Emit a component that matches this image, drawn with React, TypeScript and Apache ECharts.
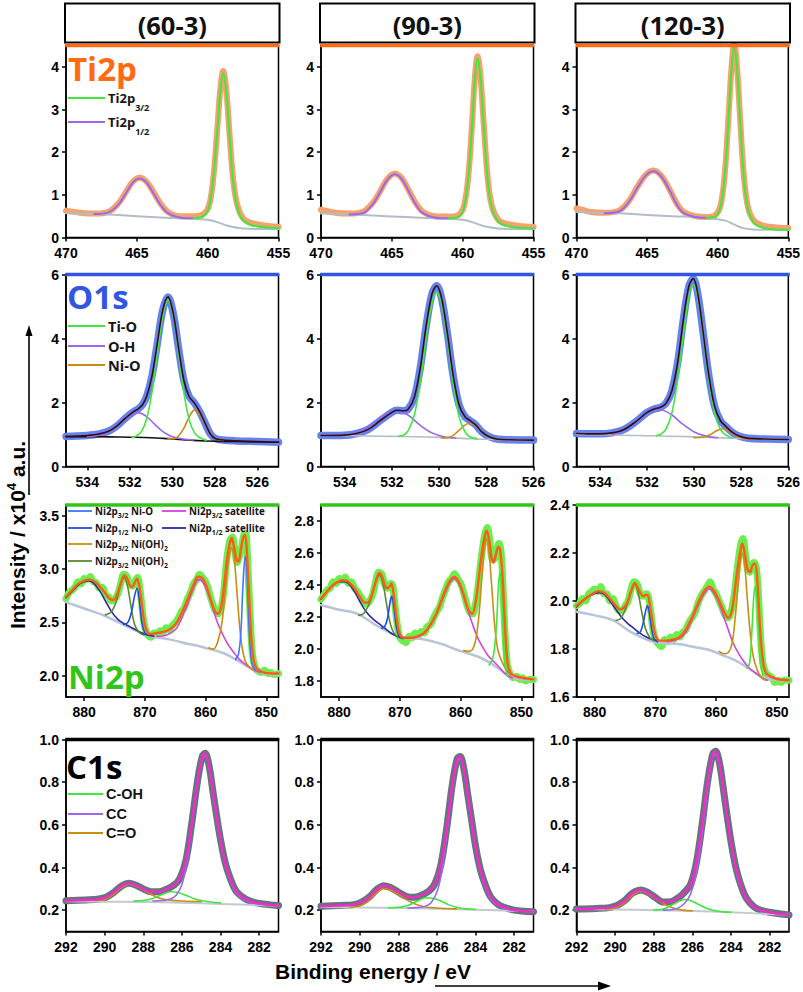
import React, { useEffect, useRef } from 'react';
import * as echarts from 'echarts';

type Pt = [number, number];

// ---------------- labels / ticks ----------------
const sampleNames = ['(60-3)', '(90-3)', '(120-3)'];
const tiXTicks = [455, 460, 465, 470];
const oXTicks = [526, 528, 530, 532, 534];
const niXTicks = [850, 860, 870, 880];
const cXTicks = [282, 284, 286, 288, 290, 292];
const tiYTicks = [0, 1, 2, 3, 4];
const oYTicks = [0, 2, 4, 6];
const ni60YTicks = [2.0, 2.5, 3.0, 3.5];
const ni90YTicks = [1.8, 2.0, 2.2, 2.4, 2.6, 2.8];
const ni120YTicks = [1.6, 1.8, 2.0, 2.2, 2.4];
const cYTicks = [0.2, 0.4, 0.6, 0.8, 1.0];

// ---------------- Ti2p ----------------
const ti60Data: Pt[] = [[470,0.63],[469,0.58],[468,0.56],[467,0.6],[466.3,0.8],[465.8,1.05],[465.3,1.3],[464.8,1.4],[464.3,1.3],[463.8,1.05],[463.3,0.78],[462.8,0.6],[462,0.5],[461,0.5],[460.3,0.55],[459.9,0.75],[459.6,1.4],[459.35,2.4],[459.1,3.5],[458.9,3.9],[458.7,3.5],[458.45,2.4],[458.2,1.35],[457.9,0.75],[457.5,0.45],[457,0.35],[456,0.28],[455,0.25]];
const ti60P12: Pt[] = [[468,0.55],[467,0.59],[466.3,0.77],[465.8,1.02],[465.3,1.28],[464.8,1.38],[464.3,1.28],[463.8,1.02],[463.3,0.75],[462.8,0.57],[462,0.47],[461,0.45]];
const ti60P32: Pt[] = [[461,0.45],[460.3,0.5],[459.9,0.72],[459.6,1.4],[459.35,2.38],[459.1,3.45],[458.9,3.85],[458.7,3.45],[458.45,2.35],[458.2,1.3],[457.9,0.7],[457.5,0.4],[457,0.3],[456,0.24],[455,0.22]];
const ti60Bg: Pt[] = [[470,0.57],[468,0.55],[466,0.52],[464,0.48],[462,0.45],[460.5,0.43],[459.7,0.4],[459,0.32],[458.3,0.25],[457.5,0.21],[456,0.2],[455,0.2]];

const ti90Data: Pt[] = [[470,0.65],[469,0.58],[468,0.56],[467,0.61],[466.3,0.83],[465.8,1.1],[465.3,1.38],[464.8,1.5],[464.3,1.39],[463.8,1.1],[463.3,0.8],[462.8,0.6],[462,0.5],[461,0.49],[460.3,0.53],[459.9,0.75],[459.6,1.45],[459.35,2.6],[459.15,3.7],[458.95,4.25],[458.75,3.8],[458.5,2.6],[458.25,1.45],[457.95,0.75],[457.5,0.42],[457,0.33],[456,0.27],[455,0.25]];
const ti90P12: Pt[] = [[468,0.54],[467,0.58],[466.3,0.8],[465.8,1.08],[465.3,1.36],[464.8,1.48],[464.3,1.37],[463.8,1.08],[463.3,0.77],[462.8,0.57],[462,0.47],[461,0.45]];
const ti90P32: Pt[] = [[461,0.45],[460.3,0.48],[459.9,0.72],[459.6,1.42],[459.35,2.55],[459.15,3.65],[458.95,4.2],[458.75,3.75],[458.5,2.55],[458.25,1.4],[457.95,0.7],[457.5,0.38],[457,0.28],[456,0.23],[455,0.21]];
const ti90Bg: Pt[] = [[470,0.56],[468,0.54],[466,0.51],[464,0.48],[462,0.45],[460.5,0.43],[459.7,0.4],[459,0.32],[458.3,0.25],[457.5,0.21],[456,0.2],[455,0.2]];

const ti120Data: Pt[] = [[470,0.68],[469.5,0.64],[469,0.6],[468,0.58],[467,0.63],[466.3,0.85],[465.7,1.18],[465.1,1.47],[464.55,1.57],[464,1.45],[463.4,1.12],[462.9,0.8],[462.4,0.6],[461.6,0.5],[460.8,0.48],[460.2,0.52],[459.8,0.75],[459.5,1.5],[459.25,2.75],[459.03,3.95],[458.83,4.55],[458.63,4.0],[458.4,2.7],[458.15,1.45],[457.85,0.7],[457.4,0.38],[456.8,0.28],[456,0.24],[455,0.22]];
const ti120P12: Pt[] = [[468,0.57],[467,0.61],[466.3,0.83],[465.7,1.16],[465.1,1.45],[464.55,1.55],[464,1.43],[463.4,1.1],[462.9,0.77],[462.4,0.57],[461.6,0.48],[460.8,0.46]];
const ti120P32: Pt[] = [[460.8,0.46],[460.2,0.48],[459.8,0.72],[459.5,1.45],[459.25,2.7],[459.03,3.9],[458.83,4.5],[458.63,3.95],[458.4,2.65],[458.15,1.4],[457.85,0.65],[457.4,0.33],[456.8,0.23],[456,0.19],[455,0.18]];
const ti120Bg: Pt[] = [[470,0.6],[468,0.58],[466,0.55],[464,0.51],[462.5,0.49],[461,0.46],[460,0.43],[459.4,0.39],[458.8,0.3],[458.2,0.22],[457.5,0.19],[456,0.18],[455,0.18]];

// ---------------- O1s ----------------
const o60Fit: Pt[] = [[535,0.94],[534.5,0.95],[534,0.97],[533.5,1.01],[533,1.1],[532.6,1.27],[532.2,1.51],[531.85,1.7],[531.6,1.8],[531.4,1.93],[531.2,2.2],[530.95,2.84],[530.7,3.86],[530.45,4.88],[530.2,5.3],[529.95,4.77],[529.7,3.68],[529.45,2.68],[529.2,2.18],[528.95,1.98],[528.7,1.7],[528.45,1.35],[528.2,1.01],[527.95,0.87],[527.5,0.82],[527,0.8],[526,0.78],[525,0.76]];
const o60TiO: Pt[] = [[531.9,0.9],[531.7,0.95],[531.45,1.09],[531.2,1.5],[530.95,2.34],[530.7,3.54],[530.45,4.7],[530.2,5.2],[529.95,4.7],[529.7,3.52],[529.45,2.3],[529.2,1.45],[528.95,1.05],[528.7,0.9],[528.4,0.82]];
const o60OH: Pt[] = [[534,0.93],[533.5,0.97],[533,1.07],[532.6,1.25],[532.2,1.5],[531.9,1.64],[531.67,1.69],[531.4,1.64],[531.1,1.5],[530.8,1.3],[530.5,1.12],[530.2,0.99],[529.9,0.91],[529.5,0.86],[529,0.83]];
const o60NiO: Pt[] = [[530.2,0.87],[529.9,0.87],[529.7,0.96],[529.45,1.2],[529.2,1.55],[528.95,1.77],[528.7,1.62],[528.45,1.34],[528.2,1.02],[527.95,0.87],[527.6,0.81]];
const o60Bg: Pt[] = [[535,0.93],[534,0.93],[533,0.925],[532,0.915],[531,0.9],[530.2,0.87],[529.5,0.84],[528.8,0.81],[528,0.79],[527,0.78],[526,0.77],[525,0.76]];

const o90Fit: Pt[] = [[535,0.97],[534,0.98],[533.5,1.03],[533,1.16],[532.5,1.43],[532,1.69],[531.8,1.76],[531.5,1.74],[531.3,1.8],[531.05,2.16],[530.8,3.06],[530.55,4.37],[530.3,5.39],[530.1,5.65],[529.9,5.28],[529.65,4.17],[529.4,2.83],[529.15,1.92],[528.9,1.55],[528.7,1.44],[528.45,1.3],[528.2,1.09],[527.9,0.94],[527.5,0.85],[527,0.835],[526,0.825]];
const o90TiO: Pt[] = [[531.7,0.95],[531.5,0.98],[531.3,1.13],[531.05,1.6],[530.8,2.6],[530.55,4.0],[530.3,5.1],[530.1,5.45],[529.9,5.1],[529.65,4.0],[529.4,2.6],[529.15,1.55],[528.9,1.08],[528.7,0.93],[528.4,0.87]];
const o90OH: Pt[] = [[533.8,0.99],[533.3,1.1],[532.8,1.32],[532.3,1.6],[531.8,1.74],[531.3,1.6],[530.8,1.29],[530.3,1.05],[529.8,0.93],[529.3,0.89]];
const o90NiO: Pt[] = [[529.9,0.89],[529.5,0.93],[529.2,1.1],[528.95,1.27],[528.7,1.35],[528.45,1.27],[528.2,1.1],[527.9,0.93],[527.5,0.86]];
const o90Bg: Pt[] = [[535,0.97],[534,0.965],[533,0.955],[532,0.94],[531,0.93],[530,0.91],[529,0.88],[528,0.85],[527,0.835],[526,0.825]];

const o120Fit: Pt[] = [[535,1.03],[534.5,1.02],[534,1.02],[533.5,1.05],[533,1.15],[532.5,1.39],[532,1.69],[531.7,1.8],[531.43,1.85],[531.2,1.97],[530.95,2.36],[530.7,3.26],[530.45,4.64],[530.22,5.65],[530.04,5.87],[529.86,5.45],[529.63,4.25],[529.38,2.85],[529.13,1.87],[528.88,1.43],[528.65,1.25],[528.4,1.08],[528.1,0.95],[527.7,0.88],[527,0.86],[526,0.845]];
const o120TiO: Pt[] = [[531.6,0.97],[531.43,1.0],[531.2,1.17],[530.95,1.67],[530.7,2.72],[530.45,4.18],[530.22,5.33],[530.04,5.68],[529.86,5.33],[529.63,4.18],[529.38,2.72],[529.13,1.67],[528.88,1.15],[528.65,0.98],[528.4,0.9]];
const o120OH: Pt[] = [[533.5,0.99],[533,1.14],[532.5,1.38],[532,1.68],[531.5,1.79],[531,1.64],[530.5,1.33],[530,1.08],[529.5,0.95],[529,0.9]];
const o120NiO: Pt[] = [[530,0.9],[529.6,0.92],[529.3,1.0],[529.05,1.12],[528.79,1.18],[528.5,1.1],[528.2,0.96],[527.9,0.88],[527.5,0.86]];
const o120Bg: Pt[] = [[535,1.0],[534,0.99],[533,0.975],[532,0.96],[531,0.945],[530,0.925],[529,0.9],[528,0.875],[527,0.86],[526,0.845]];

// ---------------- Ni2p ----------------
const ni60Data: Pt[] = [[883,2.72],[882.5,2.78],[882,2.8],[881.5,2.83],[881,2.88],[880.5,2.86],[880,2.91],[879.5,2.9],[879,2.93],[878.5,2.88],[878,2.87],[877.5,2.82],[877,2.83],[876.5,2.76],[876,2.74],[875.5,2.7],[875,2.72],[874.5,2.76],[874,2.86],[873.5,2.95],[873,2.93],[872.5,2.86],[872,2.84],[871.5,2.9],[871.2,2.92],[870.8,2.8],[870.4,2.6],[870,2.45],[869.5,2.38],[869,2.36],[868.5,2.4],[868,2.39],[867.5,2.42],[867,2.41],[866.5,2.45],[866,2.43],[865.5,2.47],[865,2.5],[864.5,2.54],[864,2.6],[863.5,2.64],[863,2.72],[862.5,2.78],[862,2.86],[861.5,2.9],[861,2.95],[860.5,2.92],[860,2.88],[859.5,2.8],[859,2.7],[858.5,2.62],[858,2.58],[857.5,2.62],[857,2.8],[856.5,3.1],[856,3.27],[855.6,3.3],[855.2,3.18],[854.8,3.06],[854.5,3.1],[854.1,3.2],[853.7,3.32],[853.4,3.33],[853.1,3.1],[852.7,2.6],[852.3,2.2],[851.8,2.07],[851.3,2.04],[850.8,2.03],[850.3,2.05],[849.8,2.02],[849.3,2.03],[848.8,2.01],[848,2.02]];
const ni60Fit: Pt[] = [[883,2.74],[882,2.8],[881,2.86],[880,2.89],[879.3,2.9],[878.5,2.89],[877.5,2.84],[876.5,2.77],[875.8,2.72],[875.2,2.71],[874.6,2.76],[874,2.86],[873.4,2.94],[873,2.92],[872.5,2.85],[872.1,2.83],[871.7,2.87],[871.3,2.91],[870.9,2.83],[870.4,2.62],[870,2.47],[869.5,2.4],[869,2.39],[868,2.4],[867,2.41],[866,2.43],[865,2.48],[864,2.58],[863,2.71],[862,2.85],[861.2,2.93],[860.5,2.91],[859.8,2.83],[859.2,2.72],[858.6,2.62],[858,2.58],[857.5,2.63],[857,2.82],[856.5,3.08],[856,3.25],[855.7,3.29],[855.3,3.2],[854.9,3.08],[854.6,3.07],[854.2,3.18],[853.8,3.3],[853.5,3.32],[853.2,3.15],[852.8,2.7],[852.4,2.3],[852,2.12],[851.5,2.06],[850.5,2.03],[849,2.02],[848,2.02]];
const ni60Sat12: Pt[] = [[883,2.73],[882,2.79],[881,2.85],[880,2.88],[879.3,2.89],[878.5,2.87],[877.5,2.8],[876.5,2.7],[875.5,2.6],[874.5,2.53],[873.5,2.49],[872.5,2.46],[871.5,2.43],[870.5,2.4],[869.5,2.38],[868.5,2.37]];
const ni60OH12: Pt[] = [[876.5,2.57],[875.5,2.6],[874.7,2.7],[874,2.85],[873.4,2.92],[872.9,2.85],[872.3,2.65],[871.7,2.48],[871,2.41],[870.2,2.38]];
const ni60NiO12: Pt[] = [[873.5,2.48],[872.8,2.5],[872.2,2.6],[871.7,2.75],[871.3,2.82],[870.9,2.7],[870.5,2.5],[870,2.4],[869.5,2.38]];
const ni60Sat32: Pt[] = [[868,2.37],[866.5,2.38],[865,2.43],[864,2.53],[863,2.67],[862,2.82],[861.2,2.9],[860.5,2.88],[859.8,2.8],[859,2.67],[858.2,2.52],[857.3,2.4],[856.4,2.3],[855.4,2.22],[854.4,2.15],[853.3,2.1],[852,2.05],[851,2.03]];
const ni60OH32: Pt[] = [[859.5,2.26],[858.7,2.25],[858,2.32],[857.3,2.5],[856.7,2.85],[856.2,3.1],[855.75,3.2],[855.3,3.1],[854.8,2.75],[854.2,2.35],[853.5,2.14],[852.8,2.08],[852,2.05]];
const ni60NiO32: Pt[] = [[855.1,2.15],[854.6,2.2],[854.2,2.4],[853.85,2.85],[853.5,3.12],[853.2,2.95],[852.85,2.45],[852.4,2.12],[851.8,2.05]];
const ni60Bg: Pt[] = [[883,2.69],[880,2.63],[877,2.57],[874,2.49],[871,2.41],[869,2.37],[866,2.34],[863,2.3],[860,2.26],[857,2.21],[855,2.15],[853.5,2.1],[852,2.05],[850,2.02],[848,2.01]];

const ni90Data: Pt[] = [[883,2.31],[882.5,2.34],[882,2.37],[881.5,2.38],[881,2.42],[880.5,2.41],[880,2.44],[879.5,2.43],[879,2.45],[878.5,2.41],[878,2.42],[877.5,2.38],[877,2.36],[876.5,2.33],[876,2.3],[875.5,2.28],[875,2.3],[874.5,2.34],[874,2.42],[873.5,2.48],[873,2.47],[872.5,2.4],[872,2.38],[871.5,2.41],[871.2,2.4],[870.8,2.27],[870.4,2.14],[870,2.07],[869.5,2.05],[869,2.04],[868.5,2.08],[868,2.07],[867.5,2.1],[867,2.08],[866.5,2.11],[866,2.1],[865.5,2.14],[865,2.15],[864.5,2.19],[864,2.23],[863.5,2.26],[863,2.32],[862.5,2.37],[862,2.42],[861.5,2.44],[861,2.47],[860.5,2.44],[860,2.41],[859.5,2.35],[859,2.28],[858.5,2.23],[858,2.22],[857.5,2.29],[857,2.44],[856.5,2.6],[856,2.72],[855.6,2.76],[855.2,2.68],[854.8,2.56],[854.5,2.56],[854.1,2.62],[853.7,2.66],[853.4,2.63],[853.1,2.45],[852.7,2.1],[852.3,1.9],[851.8,1.84],[851.3,1.82],[850.8,1.83],[850.3,1.81],[849.8,1.82],[849.3,1.8],[848.8,1.81],[848,1.81]];
const ni90Fit: Pt[] = [[883,2.315],[882,2.36],[881,2.4],[880,2.425],[879.3,2.43],[878.5,2.42],[877.5,2.38],[876.5,2.32],[875.8,2.29],[875.3,2.29],[874.7,2.33],[874,2.42],[873.4,2.475],[873,2.46],[872.5,2.4],[872.1,2.38],[871.7,2.39],[871.4,2.41],[871,2.33],[870.5,2.18],[870,2.09],[869.3,2.07],[868,2.07],[867,2.08],[866,2.1],[865,2.15],[864,2.22],[863,2.32],[862,2.41],[861.1,2.45],[860.3,2.42],[859.5,2.34],[858.8,2.25],[858.1,2.22],[857.5,2.3],[857,2.45],[856.5,2.6],[856,2.71],[855.7,2.74],[855.3,2.68],[854.9,2.57],[854.6,2.54],[854.2,2.59],[853.8,2.64],[853.5,2.62],[853.1,2.45],[852.7,2.15],[852.3,1.92],[851.8,1.85],[851,1.83],[850,1.82],[848,1.81]];
const ni90Sat12: Pt[] = [[883,2.31],[882,2.36],[881,2.4],[880,2.42],[879.3,2.42],[878.5,2.41],[877.5,2.36],[876.5,2.29],[875.5,2.23],[874.5,2.19],[873.5,2.16],[872.5,2.13],[871.5,2.1],[870.5,2.08],[869.5,2.065]];
const ni90OH12: Pt[] = [[876.8,2.21],[876,2.22],[875.2,2.27],[874.5,2.35],[873.9,2.43],[873.35,2.46],[872.8,2.41],[872.2,2.28],[871.6,2.16],[871,2.1],[870.3,2.075]];
const ni90NiO12: Pt[] = [[873,2.13],[872.5,2.14],[872,2.2],[871.6,2.3],[871.35,2.33],[871,2.26],[870.6,2.14],[870.2,2.085],[869.7,2.07]];
const ni90Sat32: Pt[] = [[868,2.07],[867,2.08],[866,2.1],[865,2.15],[864,2.22],[863,2.31],[862,2.4],[861.1,2.44],[860.3,2.41],[859.5,2.33],[858.7,2.23],[858,2.15],[857.3,2.08],[856.5,2.02],[855.5,1.96],[854.5,1.92],[853.5,1.88],[852.5,1.84],[851.5,1.82]];
const ni90OH32: Pt[] = [[859.5,1.99],[858.7,1.985],[858,2.0],[857.4,2.08],[856.9,2.25],[856.4,2.5],[856,2.66],[855.7,2.69],[855.3,2.6],[854.9,2.4],[854.4,2.15],[853.9,2.0],[853.2,1.92],[852.5,1.87],[851.8,1.84]];
const ni90NiO32: Pt[] = [[855.3,1.9],[854.6,1.96],[854.1,2.15],[853.8,2.38],[853.55,2.48],[853.3,2.4],[853,2.12],[852.7,1.9],[852.3,1.83]];
const ni90Bg: Pt[] = [[883,2.275],[880,2.245],[877,2.22],[874,2.15],[871,2.09],[869,2.07],[866,2.06],[863,2.03],[861,2.0],[859,1.975],[857,1.95],[855,1.91],[853.5,1.87],[852,1.83],[850,1.81],[848,1.81]];

const ni120Data: Pt[] = [[883,1.98],[882.5,1.99],[882,2.01],[881.5,2.0],[881,2.03],[880.5,2.04],[880,2.05],[879.5,2.04],[879,2.06],[878.5,2.03],[878,2.03],[877.5,2.0],[877,2.01],[876.5,1.98],[876,1.96],[875.5,1.96],[875,1.98],[874.5,2.0],[874,2.05],[873.5,2.08],[873,2.07],[872.5,2.03],[872,2.02],[871.5,2.03],[871.2,2.02],[870.8,1.96],[870.4,1.88],[870,1.84],[869.5,1.82],[869,1.81],[868.5,1.84],[868,1.83],[867.5,1.85],[867,1.84],[866.5,1.86],[866,1.85],[865.5,1.87],[865,1.88],[864.5,1.91],[864,1.93],[863.5,1.95],[863,1.99],[862.5,2.02],[862,2.04],[861.5,2.06],[861,2.08],[860.5,2.05],[860,2.03],[859.5,2.0],[859,1.97],[858.5,1.94],[858,1.93],[857.5,1.96],[857,2.03],[856.5,2.14],[856,2.23],[855.6,2.26],[855.2,2.2],[854.8,2.13],[854.5,2.12],[854.1,2.15],[853.7,2.16],[853.4,2.14],[853.1,2.06],[852.7,1.86],[852.3,1.74],[851.8,1.7],[851.3,1.69],[850.8,1.68],[850.3,1.66],[849.8,1.67],[849.3,1.66],[848.8,1.67],[848,1.67]];
const ni120Fit: Pt[] = [[883,1.98],[882,2.0],[881,2.02],[880,2.035],[879.4,2.04],[878.5,2.035],[877.5,2.01],[876.5,1.98],[875.8,1.965],[875.3,1.97],[874.7,1.99],[874,2.04],[873.4,2.075],[873,2.06],[872.4,2.03],[872,2.02],[871.6,2.025],[871.3,2.025],[870.9,1.98],[870.4,1.9],[869.9,1.85],[869.3,1.835],[868,1.835],[867,1.84],[866,1.85],[865,1.88],[864,1.93],[863,1.99],[862,2.04],[861.1,2.06],[860.3,2.04],[859.5,2.0],[858.8,1.96],[858,1.93],[857.5,1.95],[857,2.03],[856.5,2.13],[856,2.21],[855.7,2.24],[855.3,2.2],[854.8,2.13],[854.4,2.12],[854,2.15],[853.6,2.155],[853.2,2.08],[852.8,1.9],[852.3,1.75],[851.8,1.7],[851,1.685],[850,1.675],[848,1.67]];
const ni120Sat12: Pt[] = [[883,1.975],[882,2.0],[881,2.02],[880,2.03],[879.4,2.035],[878.5,2.03],[877.5,2.0],[876.5,1.965],[875.5,1.93],[874.5,1.905],[873.5,1.885],[872.5,1.865],[871.5,1.85],[870.5,1.84],[869.5,1.835]];
const ni120OH12: Pt[] = [[876.5,1.92],[875.8,1.925],[875.2,1.95],[874.5,2.0],[873.9,2.05],[873.4,2.07],[872.9,2.04],[872.3,1.96],[871.7,1.89],[871,1.85],[870.3,1.835]];
const ni120NiO12: Pt[] = [[873,1.865],[872.5,1.87],[872,1.91],[871.6,1.96],[871.3,1.98],[871,1.95],[870.6,1.88],[870.2,1.84],[869.7,1.83]];
const ni120Sat32: Pt[] = [[868,1.83],[867,1.835],[866,1.845],[865,1.87],[864,1.92],[863,1.98],[862,2.03],[861.1,2.05],[860.3,2.03],[859.5,1.99],[858.7,1.93],[858,1.88],[857.3,1.83],[856.5,1.79],[855.5,1.75],[854.5,1.72],[853.5,1.7],[852.5,1.68],[851.5,1.67]];
const ni120OH32: Pt[] = [[859.5,1.79],[858.7,1.78],[858,1.785],[857.4,1.82],[856.9,1.92],[856.4,2.06],[856,2.17],[855.7,2.2],[855.3,2.15],[854.9,2.02],[854.4,1.87],[853.9,1.77],[853.2,1.71],[852.5,1.68],[851.8,1.67]];
const ni120NiO32: Pt[] = [[855,1.72],[854.5,1.74],[854.1,1.88],[853.8,2.02],[853.55,2.06],[853.3,2.02],[853,1.88],[852.7,1.74],[852.3,1.69]];
const ni120Bg: Pt[] = [[883,1.955],[880,1.94],[877,1.92],[874,1.87],[871,1.835],[869,1.825],[866,1.82],[863,1.805],[861,1.795],[859,1.775],[857,1.755],[855,1.725],[853.5,1.7],[852,1.68],[850,1.67],[848,1.67]];

// ---------------- C1s ----------------
const c60Fit: Pt[] = [[292,0.244],[291,0.248],[290.3,0.252],[289.9,0.262],[289.5,0.285],[289.1,0.315],[288.75,0.326],[288.4,0.318],[288,0.3],[287.6,0.286],[287.2,0.286],[286.8,0.298],[286.4,0.318],[286.1,0.35],[285.8,0.43],[285.5,0.6],[285.2,0.8],[284.95,0.92],[284.8,0.935],[284.6,0.88],[284.4,0.76],[284.2,0.64],[284,0.53],[283.75,0.42],[283.5,0.35],[283.2,0.29],[282.8,0.258],[282.4,0.24],[282,0.232],[281.5,0.226],[281,0.222]];
const c60COH: Pt[] = [[288.5,0.243],[288,0.245],[287.5,0.255],[287,0.275],[286.6,0.286],[286.2,0.283],[285.8,0.27],[285.4,0.255],[285,0.245],[284.5,0.238],[284,0.234]];
const c60CC: Pt[] = [[287.5,0.243],[287,0.245],[286.6,0.252],[286.3,0.27],[286,0.32],[285.75,0.42],[285.5,0.58],[285.2,0.79],[284.95,0.91],[284.8,0.925],[284.6,0.87],[284.4,0.75],[284.2,0.63],[284,0.52],[283.75,0.41],[283.5,0.34],[283.2,0.28],[282.8,0.25],[282.4,0.235],[282,0.228],[281.5,0.224],[281,0.22]];
const c60CO: Pt[] = [[290.5,0.245],[290,0.25],[289.6,0.27],[289.2,0.3],[288.75,0.322],[288.3,0.31],[287.9,0.29],[287.5,0.27],[287.1,0.255],[286.6,0.247],[286,0.243],[285,0.24]];
const c60Bg: Pt[] = [[292,0.242],[290,0.24],[288,0.238],[286,0.235],[284,0.229],[282,0.224],[281,0.22]];

const c90Fit: Pt[] = [[292,0.218],[291,0.222],[290.3,0.226],[289.9,0.238],[289.5,0.262],[289.1,0.298],[288.75,0.315],[288.4,0.306],[288,0.285],[287.6,0.265],[287.2,0.26],[286.8,0.27],[286.4,0.29],[286.1,0.325],[285.8,0.41],[285.5,0.58],[285.2,0.79],[284.95,0.91],[284.8,0.92],[284.6,0.86],[284.4,0.74],[284.2,0.62],[284,0.5],[283.75,0.39],[283.5,0.32],[283.2,0.26],[282.8,0.225],[282.4,0.21],[282,0.2],[281.5,0.195],[281,0.193]];
const c90COH: Pt[] = [[288.5,0.211],[288,0.213],[287.5,0.222],[287,0.243],[286.6,0.258],[286.2,0.256],[285.8,0.243],[285.4,0.226],[285,0.214],[284.5,0.206],[284,0.203]];
const c90CC: Pt[] = [[287.5,0.21],[287,0.212],[286.6,0.218],[286.3,0.235],[286,0.285],[285.75,0.38],[285.5,0.55],[285.2,0.77],[284.95,0.895],[284.8,0.91],[284.6,0.85],[284.4,0.73],[284.2,0.61],[284,0.49],[283.75,0.38],[283.5,0.31],[283.2,0.25],[282.8,0.22],[282.4,0.205],[282,0.199],[281.5,0.196],[281,0.194]];
const c90CO: Pt[] = [[290.5,0.214],[290,0.22],[289.6,0.24],[289.2,0.275],[288.75,0.302],[288.3,0.29],[287.9,0.268],[287.5,0.245],[287.1,0.228],[286.6,0.215],[286,0.21],[285,0.206]];
const c90Bg: Pt[] = [[292,0.215],[290,0.213],[288,0.21],[286,0.207],[284,0.202],[282,0.197],[281,0.194]];

const c120Fit: Pt[] = [[292,0.205],[291,0.208],[290.3,0.212],[289.9,0.222],[289.5,0.245],[289.1,0.28],[288.65,0.295],[288.3,0.283],[287.9,0.258],[287.5,0.238],[287.1,0.24],[286.7,0.26],[286.4,0.285],[286.1,0.32],[285.8,0.42],[285.5,0.6],[285.2,0.81],[284.95,0.93],[284.8,0.945],[284.6,0.89],[284.4,0.77],[284.2,0.64],[284,0.52],[283.75,0.4],[283.5,0.32],[283.2,0.255],[282.8,0.215],[282.4,0.198],[282,0.19],[281.5,0.183],[281,0.178]];
const c120COH: Pt[] = [[288,0.2],[287.5,0.205],[287.1,0.222],[286.7,0.242],[286.4,0.25],[286.1,0.245],[285.7,0.228],[285.3,0.21],[284.9,0.198],[284.4,0.192],[284,0.19]];
const c120CC: Pt[] = [[287.5,0.2],[287,0.203],[286.7,0.212],[286.4,0.232],[286.1,0.275],[285.8,0.37],[285.5,0.56],[285.2,0.78],[284.95,0.915],[284.8,0.93],[284.6,0.875],[284.4,0.76],[284.2,0.63],[284,0.51],[283.75,0.39],[283.5,0.31],[283.2,0.25],[282.8,0.212],[282.4,0.196],[282,0.188],[281.5,0.182],[281,0.178]];
const c120CO: Pt[] = [[290.5,0.204],[290,0.21],[289.6,0.228],[289.2,0.262],[288.65,0.29],[288.2,0.272],[287.8,0.248],[287.4,0.225],[287,0.21],[286.5,0.2],[286,0.197]];
const c120Bg: Pt[] = [[292,0.205],[290,0.203],[288,0.2],[286,0.196],[284,0.19],[282,0.182],[281,0.178]];

// ---------------- layout ----------------
const COLX = [66, 321, 576.5];
const ROWT = [45.5, 274.5, 505, 739.5];
const PW = 212.5;
const PH = 192;
const LABEL_FONT = '"Liberation Sans", Arial, sans-serif';
const OPEN = '"Open Sans", "Noto Sans", sans-serif';

const C = {
  orange: '#FF6A13', blue: '#3356E2', green: '#33C41A',
  tiBand: '#F6A26C', oBand: '#6483EC', niBand: '#6CEF4C', cBand: '#64757D',
  lime: '#3EE83E', purple: '#9A68EC', gold: '#CB8C14', bgGray: '#B3BDC7',
  niBg: '#B9C3DB', niOrange: '#FF5A1A', magenta: '#D642DC', indigo: '#2B2A9E',
  olive: '#5B8A2E', blueA: '#3A78FF', blueB: '#1E4EE0', pink: '#F22BC8', dark: '#3A0A14',
};

function line(g: number, data: Pt[], color: string, width: number, z = 3) {
  return {
    type: 'line', xAxisIndex: g, yAxisIndex: g, data, showSymbol: false, symbol: 'none',
    smooth: 0.35, silent: true, z,
    lineStyle: { color, width, cap: 'round', join: 'round' },
  };
}

let measureCtx: CanvasRenderingContext2D | null = null;
function measure(text: string, font: string): number {
  if (!measureCtx) measureCtx = document.createElement('canvas').getContext('2d');
  if (!measureCtx) return text.length * 7;
  measureCtx.font = font;
  return measureCtx.measureText(text).width;
}

function buildOption() {
  const panels = [
    { xr: [455, 470], yr: [0, 4.5], xt: tiXTicks, yt: tiYTicks, yd: 0 },
    { xr: [455, 470], yr: [0, 4.5], xt: tiXTicks, yt: tiYTicks, yd: 0 },
    { xr: [455, 470], yr: [0, 4.5], xt: tiXTicks, yt: tiYTicks, yd: 0 },
    { xr: [525, 535], yr: [0, 6], xt: oXTicks, yt: oYTicks, yd: 0 },
    { xr: [526, 535], yr: [0, 6], xt: oXTicks, yt: oYTicks, yd: 0 },
    { xr: [526, 535], yr: [0, 6], xt: oXTicks, yt: oYTicks, yd: 0 },
    { xr: [848, 883], yr: [1.8, 3.6], xt: niXTicks, yt: ni60YTicks, yd: 1 },
    { xr: [848, 883], yr: [1.7, 2.9], xt: niXTicks, yt: ni90YTicks, yd: 1 },
    { xr: [848, 883], yr: [1.6, 2.4], xt: niXTicks, yt: ni120YTicks, yd: 1 },
    { xr: [281, 292], yr: [0.1, 1.0], xt: cXTicks, yt: cYTicks, yd: 1 },
    { xr: [281, 292], yr: [0.1, 1.0], xt: cXTicks, yt: cYTicks, yd: 1 },
    { xr: [281, 292], yr: [0.1, 1.0], xt: cXTicks, yt: cYTicks, yd: 1 },
  ];
  const grid: any[] = [];
  const xAxis: any[] = [];
  const yAxis: any[] = [];
  const labelStyle = { color: '#000', fontWeight: 'bold', fontSize: 14, fontFamily: LABEL_FONT };
  panels.forEach((p, g) => {
    const r = Math.floor(g / 3);
    const c = g % 3;
    grid.push({ left: COLX[c], top: ROWT[r], width: PW, height: PH, show: true, borderColor: '#000', borderWidth: 1.5, backgroundColor: '#fff', containLabel: false });
    xAxis.push({
      gridIndex: g, type: 'value', min: p.xr[0], max: p.xr[1], inverse: true,
      axisLine: { show: true, onZero: false, lineStyle: { color: '#000', width: 1.5 } },
      axisTick: { show: true, length: 4, inside: false, lineStyle: { color: '#000', width: 1.5 }, customValues: p.xt },
      axisLabel: { ...labelStyle, margin: 8, customValues: p.xt, formatter: (v: number) => String(Math.round(v)) },
      splitLine: { show: false },
    });
    yAxis.push({
      gridIndex: g, type: 'value', min: p.yr[0], max: p.yr[1],
      axisLine: { show: true, onZero: false, lineStyle: { color: '#000', width: 1.5 } },
      axisTick: { show: true, length: 4, inside: false, lineStyle: { color: '#000', width: 1.5 }, customValues: p.yt },
      axisLabel: { ...labelStyle, margin: 7, customValues: p.yt, formatter: (v: number) => v.toFixed(p.yd) },
      splitLine: { show: false },
    });
  });

  const tiSets = [
    [ti60Data, ti60Bg, ti60P12, ti60P32],
    [ti90Data, ti90Bg, ti90P12, ti90P32],
    [ti120Data, ti120Bg, ti120P12, ti120P32],
  ];
  const oSets = [
    [o60Fit, o60Bg, o60OH, o60NiO, o60TiO],
    [o90Fit, o90Bg, o90OH, o90NiO, o90TiO],
    [o120Fit, o120Bg, o120OH, o120NiO, o120TiO],
  ];
  const niSets = [
    [ni60Data, ni60Bg, ni60Sat12, ni60Sat32, ni60OH12, ni60NiO12, ni60OH32, ni60NiO32, ni60Fit],
    [ni90Data, ni90Bg, ni90Sat12, ni90Sat32, ni90OH12, ni90NiO12, ni90OH32, ni90NiO32, ni90Fit],
    [ni120Data, ni120Bg, ni120Sat12, ni120Sat32, ni120OH12, ni120NiO12, ni120OH32, ni120NiO32, ni120Fit],
  ];
  const cSets = [
    [c60Fit, c60Bg, c60CO, c60COH, c60CC],
    [c90Fit, c90Bg, c90CO, c90COH, c90CC],
    [c120Fit, c120Bg, c120CO, c120COH, c120CC],
  ];

  const series: any[] = [];
  for (let c = 0; c < 3; c++) {
    const [d, bg, p12, p32] = tiSets[c];
    series.push(line(c, d, C.tiBand, 6, 2), line(c, bg, C.bgGray, 2), line(c, p12, C.purple, 2), line(c, p32, C.lime, 2));
    const g1 = 3 + c;
    const [of, ob, ooh, onio, otio] = oSets[c];
    series.push(line(g1, of, C.oBand, 7.5, 2), line(g1, ob, c === 0 ? '#111' : C.bgGray, 1.6), line(g1, ooh, C.purple, 1.6), line(g1, onio, C.gold, 1.6), line(g1, otio, C.lime, 1.6), line(g1, of, C.dark, 1.6, 4));
    const g2 = 6 + c;
    const [nd, nb, s12, s32, oh12, nio12, oh32, nio32, nf] = niSets[c];
    series.push(
      line(g2, nd, C.niBand, 7, 2), line(g2, nb, C.niBg, 2.5),
      line(g2, s12, C.indigo, 1.6), line(g2, s32, C.magenta, 1.6), line(g2, oh12, C.olive, 1.6),
      line(g2, nio12, C.blueB, 1.6), line(g2, oh32, C.gold, 1.6), line(g2, nio32, c === 0 ? C.blueA : C.lime, 1.6),
      line(g2, nf, C.niOrange, 2.4, 4),
    );
    const g3 = 9 + c;
    const [cf, cb, cco, ccoh, ccc] = cSets[c];
    series.push(line(g3, cf, C.cBand, 7, 2), line(g3, cb, '#C2CAD0', 2), line(g3, cco, C.gold, 1.6), line(g3, ccoh, C.lime, 1.6), line(g3, ccc, C.purple, 1.6), line(g3, cf, C.pink, 2.4, 4));
  }

  // ---------- graphics ----------
  const graphic: any[] = [];
  const txt = (x: number, y: number, text: string, opts: any) => ({
    type: 'text', x, y, z: 100, silent: true,
    style: { text, align: opts.align || 'left', verticalAlign: 'middle', textAlign: opts.align || 'left', textVerticalAlign: 'middle', ...opts.style },
  });
  // header boxes
  for (let c = 0; c < 3; c++) {
    graphic.push({ type: 'rect', z: 100, silent: true, shape: { x: COLX[c] - 1, y: 3.5, width: PW + 2, height: 39 }, style: { fill: '#fff', stroke: '#000', lineWidth: 2 } });
    graphic.push(txt(COLX[c] + PW / 2, 24.5, sampleNames[c], { align: 'center', style: { fontSize: 25.5, fontWeight: 'bold', fontFamily: OPEN, fill: '#111' } }));
  }
  // coloured top edges
  const topColors = [C.orange, C.blue, C.green, '#000'];
  for (let r = 0; r < 4; r++) for (let c = 0; c < 3; c++) {
    graphic.push({ type: 'rect', z: 101, silent: true, shape: { x: COLX[c] - 0.75, y: ROWT[r] - 1.75, width: PW + 1.5, height: 3.5 }, style: { fill: topColors[r] } });
  }
  // panel titles
  const titleStyle = (fill: string) => ({ fontSize: 33, lineHeight: 34, fontWeight: 'bold', fontFamily: OPEN, fill });
  graphic.push(txt(68, 68, 'Ti2p', { style: titleStyle(C.orange) }));
  graphic.push(txt(67, 296, 'O1s', { style: titleStyle(C.blue) }));
  graphic.push(txt(68, 676, 'Ni2p', { style: titleStyle(C.green) }));
  graphic.push(txt(66, 766, 'C1s', { style: titleStyle('#000') }));

  // legend: line sample + text made of normal and subscript pieces placed side by side
  type Seg = [string, boolean];
  const legendItem = (x1: number, x2: number, y: number, color: string, segs: Seg[], f: number, fam: string, subShift: number, w = 2.2) => {
    graphic.push({ type: 'line', z: 100, silent: true, shape: { x1, y1: y, x2, y2: y }, style: { stroke: color, lineWidth: w } });
    let x = x2 + 3;
    const sf = Math.round(f * 0.7 * 10) / 10;
    segs.forEach(([t, isSub]) => {
      const size = isSub ? sf : f;
      graphic.push(txt(x, isSub ? y + subShift : y, t, { style: { fontSize: size, fontWeight: 'bold', fontFamily: fam, fill: '#151515' } }));
      x += measure(t, `bold ${size}px ${fam}`);
    });
  };
  // Ti2p legend
  legendItem(68, 105, 98, C.lime, [['Ti2p', false], ['3/2', true]], 13, OPEN, 9);
  legendItem(68, 105, 122, C.purple, [['Ti2p', false], ['1/2', true]], 13, OPEN, 9);
  // O1s legend
  legendItem(68, 105, 326, C.lime, [['Ti-O', false]], 14.5, OPEN, 0);
  legendItem(68, 105, 346, C.purple, [['O-H', false]], 14.5, OPEN, 0);
  legendItem(68, 105, 365, C.gold, [['Ni-O', false]], 14.5, OPEN, 0);
  // Ni2p legend
  const ni32: Seg[] = [['Ni2p', false], ['3/2', true]];
  const ni12: Seg[] = [['Ni2p', false], ['1/2', true]];
  const NF = 9.8;
  legendItem(68, 92, 511, C.blueA, [...ni32, [' Ni-O', false]], NF, OPEN, 4, 1.8);
  legendItem(68, 92, 528, C.blueB, [...ni12, [' Ni-O', false]], NF, OPEN, 4, 1.8);
  legendItem(68, 92, 544, C.gold, [...ni32, [' Ni(OH)', false], ['2', true]], NF, OPEN, 4, 1.8);
  legendItem(68, 92, 561, C.olive, [...ni32, [' Ni(OH)', false], ['2', true]], NF, OPEN, 4, 1.8);
  legendItem(162, 186, 511, C.magenta, [...ni32, [' satellite', false]], NF, OPEN, 4, 1.8);
  legendItem(162, 186, 528, C.indigo, [...ni12, [' satellite', false]], NF, OPEN, 4, 1.8);
  // C1s legend
  legendItem(68, 103, 794, C.lime, [['C-OH', false]], 14.5, LABEL_FONT, 0);
  legendItem(68, 103, 814, C.purple, [['CC', false]], 14.5, LABEL_FONT, 0);
  legendItem(68, 103, 833, C.gold, [['C=O', false]], 14.5, LABEL_FONT, 0);

  // axis titles and arrows
  graphic.push({
    type: 'text', x: 17, y: 535, rotation: Math.PI / 2, z: 100, silent: true,
    style: {
      text: '{a|Intensity / x10}{s|4}{a| a.u.}', align: 'center', verticalAlign: 'middle', textAlign: 'center', textVerticalAlign: 'middle',
      rich: {
        a: { fontSize: 21, fontWeight: 'bold', fontFamily: LABEL_FONT, fill: '#000', color: '#000', lineHeight: 24, verticalAlign: 'middle' },
        s: { fontSize: 13, fontWeight: 'bold', fontFamily: LABEL_FONT, fill: '#000', color: '#000', lineHeight: 1, verticalAlign: 'top' },
      },
    },
  });
  graphic.push({ type: 'line', z: 100, silent: true, shape: { x1: 29, y1: 495, x2: 29, y2: 333 }, style: { stroke: '#000', lineWidth: 1.6 } });
  graphic.push({ type: 'polygon', z: 100, silent: true, shape: { points: [[29, 325], [25.5, 336], [32.5, 336]] }, style: { fill: '#000' } });
  graphic.push(txt(275, 971, 'Binding energy / eV', { style: { fontSize: 21, fontWeight: 'bold', fontFamily: LABEL_FONT, fill: '#000' } }));
  graphic.push({ type: 'line', z: 100, silent: true, shape: { x1: 435, y1: 986, x2: 603, y2: 986 }, style: { stroke: '#000', lineWidth: 1.6 } });
  graphic.push({ type: 'polygon', z: 100, silent: true, shape: { points: [[611, 986], [598, 981.5], [598, 990.5]] }, style: { fill: '#000' } });

  return { animation: false, backgroundColor: '#fff', grid, xAxis, yAxis, series, graphic };
}

export default function App() {
  const ref = useRef<HTMLDivElement>(null);
  useEffect(() => {
    if (!ref.current) return;
    const chart = echarts.init(ref.current, null, { renderer: 'svg', width: 803, height: 992 });
    chart.setOption(buildOption() as any);
    return () => chart.dispose();
  }, []);
  return <div ref={ref} style={{ position: 'absolute', left: 0, top: 0, width: 803, height: 992, background: '#fff' }} />;
}
